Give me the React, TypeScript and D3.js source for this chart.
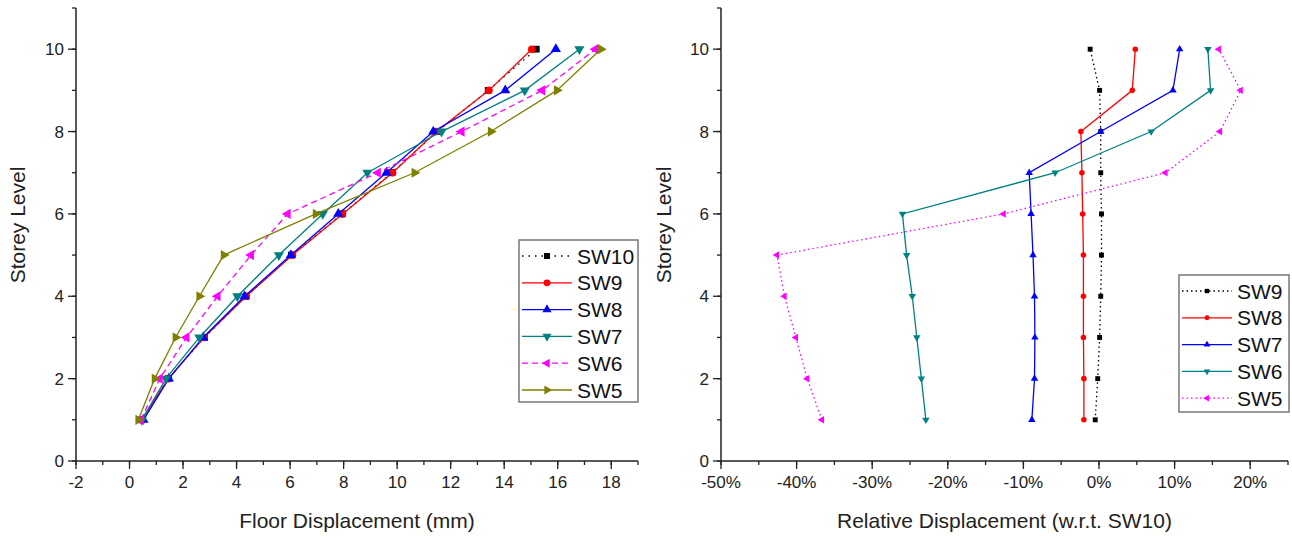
import React from "react";
import * as d3 from "d3";

const storeys = [1, 2, 3, 4, 5, 6, 7, 8, 9, 10];

// floor displacement (mm), storey 1 -> 10
const sw10Disp = [0.45, 1.45, 2.8, 4.35, 6.05, 7.95, 9.8, 11.5, 13.4, 15.2];
const sw9Disp = [0.46, 1.45, 2.78, 4.36, 6.09, 7.96, 9.83, 11.47, 13.43, 15.03];
const sw8Disp = [0.52, 1.47, 2.75, 4.3, 6.03, 7.8, 9.6, 11.35, 14.04, 15.93];
const sw7Disp = [0.46, 1.36, 2.61, 4.03, 5.58, 7.22, 8.89, 11.66, 14.77, 16.81];
const sw6Disp = [0.43, 1.13, 2.13, 3.29, 4.54, 5.91, 9.28, 12.41, 15.42, 17.41];
const sw5Disp = [0.33, 0.94, 1.72, 2.61, 3.52, 6.96, 10.65, 13.5, 15.97, 17.61];

// relative displacement w.r.t. SW10 (%)
const sw9Rel = [-0.5, -0.17, 0.08, 0.23, 0.33, 0.33, 0.23, 0.23, 0.08, -1.17];
const sw8Rel = [-2.0, -2.0, -2.06, -2.06, -2.06, -2.16, -2.26, -2.4, 4.4, 4.8];
const sw7Rel = [-8.88, -8.53, -8.48, -8.53, -8.73, -8.98, -9.23, 0.23, 9.78, 10.67];
const sw6Rel = [-22.9, -23.5, -24.1, -24.7, -25.45, -26.0, -5.8, 6.9, 14.76, 14.4];
const sw5Rel = [-36.65, -38.6, -40.1, -41.6, -42.6, -12.62, 8.78, 16.0, 18.74, 15.85];

const leftTicks = [-2, 0, 2, 4, 6, 8, 10, 12, 14, 16, 18];
const rightTicks = [-50, -40, -30, -20, -10, 0, 10, 20];
const yTicks = [0, 2, 4, 6, 8, 10];

const font = "'Liberation Sans', Arial, sans-serif";

type Series = { name: string; values: number[]; color: string; dash: string; marker: string };

const leftSeries: Series[] = [
  { name: "SW10", values: sw10Disp, color: "#000000", dash: "1.5,5", marker: "square" },
  { name: "SW9", values: sw9Disp, color: "#ff0000", dash: "", marker: "circle" },
  { name: "SW8", values: sw8Disp, color: "#0000ff", dash: "", marker: "up" },
  { name: "SW7", values: sw7Disp, color: "#008080", dash: "", marker: "down" },
  { name: "SW6", values: sw6Disp, color: "#ff00ff", dash: "6,4", marker: "left" },
  { name: "SW5", values: sw5Disp, color: "#808000", dash: "", marker: "right" },
];

const rightSeries: Series[] = [
  { name: "SW9", values: sw9Rel, color: "#000000", dash: "1.5,3", marker: "square" },
  { name: "SW8", values: sw8Rel, color: "#ff0000", dash: "", marker: "circle" },
  { name: "SW7", values: sw7Rel, color: "#0000ff", dash: "", marker: "up" },
  { name: "SW6", values: sw6Rel, color: "#008080", dash: "", marker: "down" },
  { name: "SW5", values: sw5Rel, color: "#ff00ff", dash: "1.5,3", marker: "left" },
];

function Marker({ kind, x, y, color, size }: { kind: string; x: number; y: number; color: string; size: number }) {
  let type: d3.SymbolType = d3.symbolTriangle;
  let rot = 0;
  if (kind === "square") type = d3.symbolSquare;
  if (kind === "circle") type = d3.symbolCircle;
  if (kind === "down") rot = 180;
  if (kind === "left") rot = -90;
  if (kind === "right") rot = 90;
  const d = d3.symbol().type(type).size(size)() as string;
  return <path d={d} fill={color} transform={`translate(${x},${y}) rotate(${rot})`} />;
}

function Panel(props: {
  x0: number; x1: number; domain: [number, number]; ticks: number[]; minor: number;
  fmt: (v: number) => string; series: Series[]; title: string; yTitleX: number;
  legend: { x: number; y: number; w: number; h: number }; markerSize: number;
}) {
  const { x0, x1, domain, ticks, minor, fmt, series, title, yTitleX, legend, markerSize } = props;
  const x = d3.scaleLinear().domain(domain).range([x0, x1]);
  const y = d3.scaleLinear().domain([0, 11]).range([461, 8]);
  const minorTicks = d3.range(domain[0], domain[1] + 0.001, minor);
  const yMinor = d3.range(0, 11.001, 1);
  const line = d3.line<number>().x((v) => x(v)).y((_, i) => y(storeys[i]));
  const axisColor = "#222";
  const rowH = 26.8;
  return (
    <g>
      {/* axes */}
      <line x1={x0} x2={x1} y1={y(0)} y2={y(0)} stroke={axisColor} strokeWidth={1.5} />
      <line x1={x0} x2={x0} y1={y(0)} y2={y(11)} stroke={axisColor} strokeWidth={1.5} />
      {minorTicks.map((t) => (
        <line key={"mx" + t} x1={x(t)} x2={x(t)} y1={y(0)} y2={y(0) + 4} stroke={axisColor} strokeWidth={1.3} />
      ))}
      {ticks.map((t) => (
        <g key={"x" + t}>
          <line x1={x(t)} x2={x(t)} y1={y(0)} y2={y(0) + 8} stroke={axisColor} strokeWidth={1.3} />
          <text x={x(t)} y={y(0) + 27} textAnchor="middle" fontSize={17} fontFamily={font} fill="#222">{fmt(t)}</text>
        </g>
      ))}
      {yMinor.map((t) => (
        <line key={"my" + t} x1={x0 - 4} x2={x0} y1={y(t)} y2={y(t)} stroke={axisColor} strokeWidth={1.3} />
      ))}
      {yTicks.map((t) => (
        <g key={"y" + t}>
          <line x1={x0 - 8} x2={x0} y1={y(t)} y2={y(t)} stroke={axisColor} strokeWidth={1.3} />
          <text x={x0 - 12} y={y(t) + 6} textAnchor="end" fontSize={17} fontFamily={font} fill="#222">{t}</text>
        </g>
      ))}
      <text x={(x0 + x1) / 2} y={528} textAnchor="middle" fontSize={21} fontFamily={font} fill="#222">{title}</text>
      <text transform={`translate(${yTitleX},225) rotate(-90)`} textAnchor="middle" fontSize={21} fontFamily={font} fill="#222">Storey Level</text>

      {/* series */}
      {series.map((s) => (
        <g key={s.name}>
          <path d={line(s.values) as string} fill="none" stroke={s.color} strokeWidth={1.3} strokeDasharray={s.dash} />
          {s.values.map((v, i) => (
            <Marker key={i} kind={s.marker} x={x(v)} y={y(storeys[i])} color={s.color} size={markerSize} />
          ))}
        </g>
      ))}

      {/* legend */}
      <rect x={legend.x} y={legend.y} width={legend.w} height={legend.h} fill="#fff" stroke="#777" strokeWidth={1.5} />
      {series.map((s, i) => {
        const cy = legend.y + 16 + i * rowH;
        return (
          <g key={"lg" + s.name}>
            <line x1={legend.x + 3} x2={legend.x + 53} y1={cy} y2={cy} stroke={s.color} strokeWidth={1.3} strokeDasharray={s.dash} />
            <Marker kind={s.marker} x={legend.x + 28} y={cy} color={s.color} size={markerSize * 0.8} />
            <text x={legend.x + 58} y={cy + 7.5} fontSize={21} fontFamily={font} fill="#111">{s.name}</text>
          </g>
        );
      })}
    </g>
  );
}

export default function App() {
  return (
    <svg width={1292} height={538} style={{ position: "absolute", left: 0, top: 0, background: "#fff" }}>
      <Panel
        x0={76} x1={638} domain={[-2, 19]} ticks={leftTicks} minor={1}
        fmt={(v) => String(v)} series={leftSeries} title="Floor Displacement (mm)" yTitleX={25}
        legend={{ x: 519, y: 240, w: 119, h: 162 }} markerSize={45}
      />
      <Panel
        x0={721} x1={1288} domain={[-50, 25]} ticks={rightTicks} minor={5}
        fmt={(v) => v + "%"} series={rightSeries} title="Relative Displacement (w.r.t. SW10)" yTitleX={671}
        legend={{ x: 1179, y: 275, w: 110, h: 137 }} markerSize={24}
      />
    </svg>
  );
}
